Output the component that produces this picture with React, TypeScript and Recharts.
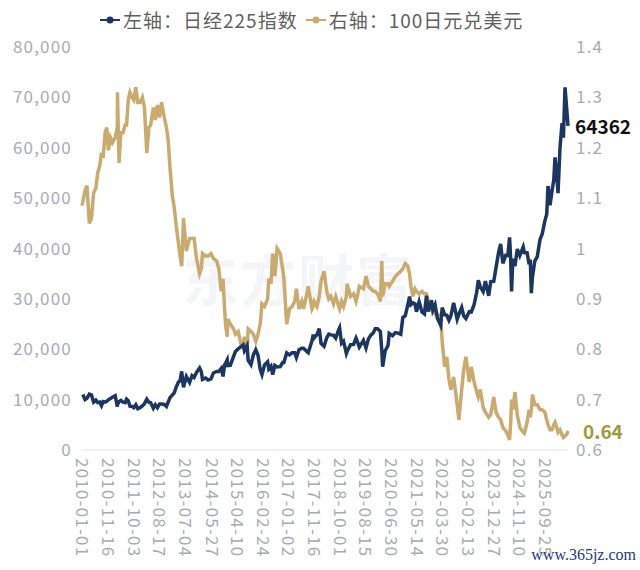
import { LineChart, Line, XAxis, YAxis, Legend, LabelList } from "recharts";

const DATES = [
    "2010-01-01", "2010-01-20", "2010-02-08", "2010-03-03", "2010-04-02", "2010-04-28", "2010-05-25", "2010-06-22", "2010-07-15", "2010-08-10", "2010-08-31", "2010-09-20", "2010-10-15", "2010-11-05", "2010-11-25", "2010-12-20",
    "2011-01-14", "2011-02-17", "2011-03-15", "2011-03-17", "2011-04-06", "2011-04-28", "2011-05-25", "2011-06-20", "2011-07-08", "2011-07-29", "2011-08-19", "2011-09-15", "2011-10-05", "2011-10-31", "2011-11-24", "2011-12-22",
    "2012-01-20", "2012-02-15", "2012-03-15", "2012-04-10", "2012-05-02", "2012-06-04", "2012-06-29", "2012-07-25", "2012-08-20", "2012-09-14", "2012-10-18", "2012-11-14", "2012-12-05", "2012-12-28",
    "2013-01-25", "2013-02-20", "2013-03-15", "2013-04-12", "2013-05-01", "2013-05-22", "2013-06-13", "2013-07-19", "2013-08-28", "2013-09-27", "2013-10-23", "2013-11-22", "2013-12-30",
    "2014-01-20", "2014-02-04", "2014-03-14", "2014-04-14", "2014-05-20", "2014-06-20", "2014-07-30", "2014-08-25", "2014-09-25", "2014-10-17", "2014-11-05", "2014-11-20", "2014-12-08", "2014-12-16",
    "2015-01-15", "2015-02-25", "2015-03-20", "2015-04-23", "2015-05-28", "2015-06-24", "2015-07-09", "2015-08-11", "2015-08-25", "2015-09-29", "2015-10-28", "2015-11-27", "2015-12-25",
    "2016-01-21", "2016-02-12", "2016-03-15", "2016-04-22", "2016-05-06", "2016-06-03", "2016-06-24", "2016-07-21", "2016-08-18", "2016-09-26", "2016-10-25", "2016-11-10", "2016-12-15",
    "2017-01-18", "2017-02-20", "2017-03-24", "2017-04-14", "2017-05-16", "2017-06-20", "2017-07-11", "2017-08-28", "2017-09-08", "2017-10-25", "2017-11-09", "2017-11-20", "2017-12-25",
    "2018-01-23", "2018-02-14", "2018-03-23", "2018-04-25", "2018-05-21", "2018-06-15", "2018-07-18", "2018-08-15", "2018-09-21", "2018-10-02", "2018-10-26", "2018-11-20", "2018-12-25",
    "2019-01-04", "2019-02-15", "2019-03-25", "2019-04-24", "2019-05-17", "2019-06-04", "2019-07-25", "2019-08-26", "2019-09-25", "2019-10-25", "2019-11-25", "2019-12-17",
    "2020-01-17", "2020-02-20", "2020-03-09", "2020-03-19", "2020-04-20", "2020-05-25", "2020-06-09", "2020-07-20", "2020-08-25", "2020-09-25", "2020-10-30", "2020-11-25", "2020-12-25",
    "2021-01-25", "2021-02-16", "2021-03-05", "2021-03-31", "2021-04-25", "2021-05-13", "2021-06-15", "2021-07-20", "2021-08-20", "2021-09-14", "2021-10-06", "2021-11-15", "2021-12-02", "2021-12-30",
    "2022-01-27", "2022-03-09", "2022-03-28", "2022-04-28", "2022-05-24", "2022-06-20", "2022-07-14", "2022-08-17", "2022-09-30", "2022-10-21", "2022-11-25", "2022-12-20",
    "2023-01-16", "2023-02-27", "2023-03-24", "2023-04-28", "2023-05-30", "2023-06-19", "2023-07-14", "2023-08-18", "2023-09-15", "2023-10-26", "2023-11-20", "2023-12-28",
    "2024-01-25", "2024-02-26", "2024-03-22", "2024-04-19", "2024-05-24", "2024-06-20", "2024-07-11", "2024-07-25", "2024-08-05", "2024-08-20", "2024-09-16", "2024-10-15", "2024-11-15", "2024-12-27",
    "2025-01-10", "2025-02-14", "2025-03-10", "2025-03-25", "2025-04-07", "2025-04-21", "2025-05-20", "2025-06-20", "2025-07-24", "2025-08-20", "2025-09-22", "2025-10-15", "2025-10-31", "2025-11-25", "2025-12-20",
    "2026-01-10", "2026-01-26", "2026-02-15", "2026-03-04", "2026-03-29", "2026-04-23", "2026-05-10", "2026-05-30", "2026-06-24", "2026-07-06",
];

// 左轴：日经225指数
const NIKKEI = [
    10550, 10700, 10000, 10250, 11100, 10950, 9500, 9900, 9400, 9500, 8800, 9600, 9500, 9650, 10000, 10200,
    10500, 10800, 8600, 9000, 9600, 9850, 9500, 9400, 10100, 9800, 8700, 8650, 8400, 9000, 8200, 8400,
    8750, 9200, 10100, 9500, 9400, 8300, 9000, 8400, 9150, 9150, 9050, 8650, 9500, 10400,
    10900, 11400, 12500, 13500, 13700, 15600, 12450, 14600, 13400, 14750, 14400, 15400, 16300,
    15600, 14000, 14300, 13900, 14100, 15300, 15600, 15600, 16200, 14600, 16900, 17300, 17900, 16750,
    16800, 18600, 19550, 20100, 20500, 20850, 19700, 20700, 17800, 16950, 18900, 19900, 18800,
    16000, 14950, 16900, 17500, 16100, 16650, 14950, 16800, 16500, 16550, 17350, 17350, 19300,
    18900, 19300, 19300, 18350, 19900, 20200, 20200, 19450, 19300, 21700, 22900, 22250, 22900,
    24100, 21150, 20600, 22250, 23000, 22850, 22800, 22200, 23900, 24270, 21200, 21600, 19150,
    19600, 20900, 20950, 22200, 21250, 20400, 21750, 20250, 22050, 22800, 23300, 24050,
    24050, 23500, 19700, 16550, 19700, 20750, 23150, 22700, 23300, 23200, 22980, 26300, 26650,
    28800, 30450, 28850, 29200, 29000, 27450, 29450, 27400, 27000, 30650, 27500, 29750, 27750, 28800,
    26150, 24750, 28250, 26850, 26750, 25750, 26650, 29200, 25950, 26900, 28300, 26600,
    26100, 27450, 27400, 28850, 31300, 33700, 32400, 31450, 33500, 30600, 33400, 33500,
    36200, 39250, 40900, 37050, 38650, 38600, 42200, 37900, 31460, 37950, 36500, 39900, 38600, 40300,
    39200, 39150, 36900, 37800, 31150, 34300, 37500, 38400, 41800, 42900, 45500, 46800, 52400, 48600, 51500,
    53500, 58100, 55000, 51000, 60100, 64900, 62000, 72000, 66900, 64362,
];

// 右轴：100日元兑美元
const JPY100 = [
    1.085, 1.1, 1.115, 1.125, 1.05, 1.06, 1.11, 1.12, 1.15, 1.165, 1.19, 1.18, 1.23, 1.24, 1.195, 1.22,
    1.21, 1.22, 1.24, 1.31, 1.17, 1.23, 1.23, 1.245, 1.245, 1.295, 1.31, 1.3, 1.295, 1.32, 1.29, 1.29,
    1.3, 1.28, 1.19, 1.24, 1.245, 1.28, 1.255, 1.285, 1.26, 1.29, 1.26, 1.24, 1.215, 1.16,
    1.105, 1.08, 1.045, 1.01, 0.985, 0.965, 1.06, 0.995, 1.02, 1.02, 1.02, 0.98, 0.95,
    0.96, 0.99, 0.985, 0.985, 0.99, 0.98, 0.975, 0.96, 0.915, 0.94, 0.88, 0.845, 0.825, 0.86,
    0.85, 0.84, 0.83, 0.835, 0.81, 0.81, 0.825, 0.8, 0.84, 0.835, 0.83, 0.815, 0.83,
    0.85, 0.89, 0.885, 0.9, 0.94, 0.93, 0.99, 0.945, 1.0, 0.99, 0.96, 0.94, 0.85,
    0.88, 0.885, 0.895, 0.92, 0.88, 0.895, 0.88, 0.915, 0.925, 0.88, 0.885, 0.895, 0.885,
    0.905, 0.935, 0.955, 0.915, 0.9, 0.905, 0.89, 0.905, 0.885, 0.88, 0.895, 0.885, 0.905,
    0.93, 0.905, 0.91, 0.895, 0.91, 0.925, 0.92, 0.945, 0.925, 0.92, 0.915, 0.915,
    0.91, 0.895, 0.975, 0.905, 0.93, 0.93, 0.925, 0.935, 0.945, 0.95, 0.955, 0.96, 0.97,
    0.965, 0.95, 0.925, 0.905, 0.92, 0.915, 0.91, 0.915, 0.91, 0.91, 0.895, 0.88, 0.885, 0.87,
    0.87, 0.865, 0.815, 0.765, 0.785, 0.74, 0.72, 0.745, 0.69, 0.66, 0.72, 0.76,
    0.785, 0.735, 0.765, 0.735, 0.715, 0.705, 0.72, 0.685, 0.675, 0.665, 0.67, 0.705,
    0.675, 0.665, 0.66, 0.645, 0.638, 0.63, 0.62, 0.655, 0.7, 0.68, 0.715, 0.67, 0.645, 0.635,
    0.633, 0.655, 0.68, 0.665, 0.68, 0.71, 0.69, 0.69, 0.68, 0.68, 0.675, 0.66, 0.65, 0.64, 0.64,
    0.65, 0.655, 0.645, 0.635, 0.64, 0.63, 0.625, 0.628, 0.632, 0.638,
];

const X_TICKS = [
    "2010-01-01", "2010-11-16", "2011-10-03", "2012-08-17", "2013-07-04", "2014-05-27",
    "2015-04-10", "2016-02-24", "2017-01-02", "2017-11-16", "2018-10-01", "2019-08-15",
    "2020-06-30", "2021-05-14", "2022-03-30", "2023-02-13", "2023-12-27", "2024-11-10", "2025-09-25",
];
const LEFT_TICKS = [0, 10000, 20000, 30000, 40000, 50000, 60000, 70000, 80000];
const RIGHT_TICKS = [0.6, 0.7, 0.8, 0.9, 1, 1.1, 1.2, 1.3, 1.4];

const NAVY = "#1d3561";
const GOLD = "#c9ab6f";
const TICK = "#a7abb3";
const FONT = "'Noto Sans CJK SC', 'Noto Sans', sans-serif";

const toTime = (d: string) => Date.parse(d + "T00:00:00Z");

const data = DATES.map((d, i) => ({ t: toTime(d), nikkei: NIKKEI[i], jpy: JPY100[i] }));
const LAST = data.length - 1;

function DateTick({ x, y, payload }: any) {
    const label = new Date(payload.value).toISOString().slice(0, 10);
    return (
        <text
            x={x}
            y={y}
            dy="0.35em"
            transform={`rotate(90, ${x}, ${y})`}
            textAnchor="start"
            fill={TICK}
            fontSize={17}
            letterSpacing={1.2}
            fontFamily={FONT}
        >
            {label}
        </text>
    );
}

function endLabel(color: string, dx: number, fmt: (v: number) => string) {
    return (props: any) => {
        if (props.index !== LAST) return null;
        const x = props.x ?? props.viewBox?.x;
        const y = props.y ?? props.viewBox?.y;
        return (
            <text x={x + dx} y={y} dominantBaseline="central" fill={color} fontSize={19} fontWeight={700} fontFamily={FONT}>
                {fmt(Number(props.value))}
            </text>
        );
    };
}

function LegendRow() {
    const items = [
        { color: NAVY, text: "左轴：日经225指数" },
        { color: GOLD, text: "右轴：100日元兑美元" },
    ];
    return (
        <div style={{ display: "flex", gap: 8, paddingLeft: 100, fontFamily: FONT, fontSize: 19, letterSpacing: 1, color: "#5f5f5f" }}>
            {items.map((it) => (
                <span key={it.text} style={{ display: "flex", alignItems: "center" }}>
                    <svg width={20} height={10} style={{ marginRight: 3 }}>
                        <line x1={0} y1={5} x2={20} y2={5} stroke={it.color} strokeWidth={2} />
                        <circle cx={10} cy={5} r={3.5} fill={it.color} />
                    </svg>
                    {it.text}
                </span>
            ))}
        </div>
    );
}

export default function App() {
    return (
        <div style={{ position: "absolute", left: 0, top: 0, width: 640, height: 570, background: "#fff" }}>
            {/* faint watermark behind the plot */}
            <div style={{ position: "absolute", left: 182, top: 236, fontFamily: FONT, fontSize: 56, fontWeight: 700, color: "#f4f5f8", letterSpacing: 2 }}>
                东方财富
            </div>
            <LineChart width={640} height={570} data={data} margin={{ top: 47, right: 0, bottom: 0, left: 0 }} style={{ position: "absolute", left: 0, top: 0 }}>
                <XAxis
                    type="number"
                    dataKey="t"
                    domain={[data[0].t, data[LAST].t]}
                    ticks={X_TICKS.map(toTime)}
                    interval={0}
                    height={120}
                    tick={<DateTick />}
                    tickLine={false}
                    axisLine={{ stroke: "#e6e6e6" }}
                />
                <YAxis
                    yAxisId="left"
                    width={82}
                    domain={[0, 80000]}
                    ticks={LEFT_TICKS}
                    axisLine={false}
                    tickLine={false}
                    tickMargin={4}
                    tick={{ fill: TICK, fontSize: 17, fontFamily: FONT, letterSpacing: 1.2 }}
                    tickFormatter={(v) => Number(v).toLocaleString("en-US")}
                />
                <YAxis
                    yAxisId="right"
                    orientation="right"
                    width={72}
                    domain={[0.6, 1.4]}
                    ticks={RIGHT_TICKS}
                    axisLine={false}
                    tickLine={false}
                    tick={{ fill: TICK, fontSize: 17, fontFamily: FONT, letterSpacing: 1.2 }}
                    tickFormatter={(v) => String(v)}
                />
                <Legend
                    layout="horizontal"
                    verticalAlign="middle"
                    align="center"
                    wrapperStyle={{ top: 6, left: 0, width: 640 }}
                    content={() => <LegendRow />}
                />
                <Line
                    yAxisId="right"
                    dataKey="jpy"
                    stroke={GOLD}
                    strokeWidth={3.5}
                    dot={false}
                    isAnimationActive={false}
                >
                    <LabelList dataKey="jpy" content={endLabel("#a09a3e", 15, (v) => v.toFixed(2))} />
                </Line>
                <Line
                    yAxisId="left"
                    dataKey="nikkei"
                    stroke={NAVY}
                    strokeWidth={3.5}
                    dot={false}
                    isAnimationActive={false}
                >
                    <LabelList dataKey="nikkei" content={endLabel("#111111", 7, (v) => String(v))} />
                </Line>
            </LineChart>
            <div style={{ position: "absolute", right: 4, top: 546, fontFamily: "'Liberation Serif', serif", fontSize: 16, color: "#1e3a78", textShadow: "0 0 2px #fff, 0 0 2px #fff" }}>
                www.365jz.com
            </div>
        </div>
    );
}
